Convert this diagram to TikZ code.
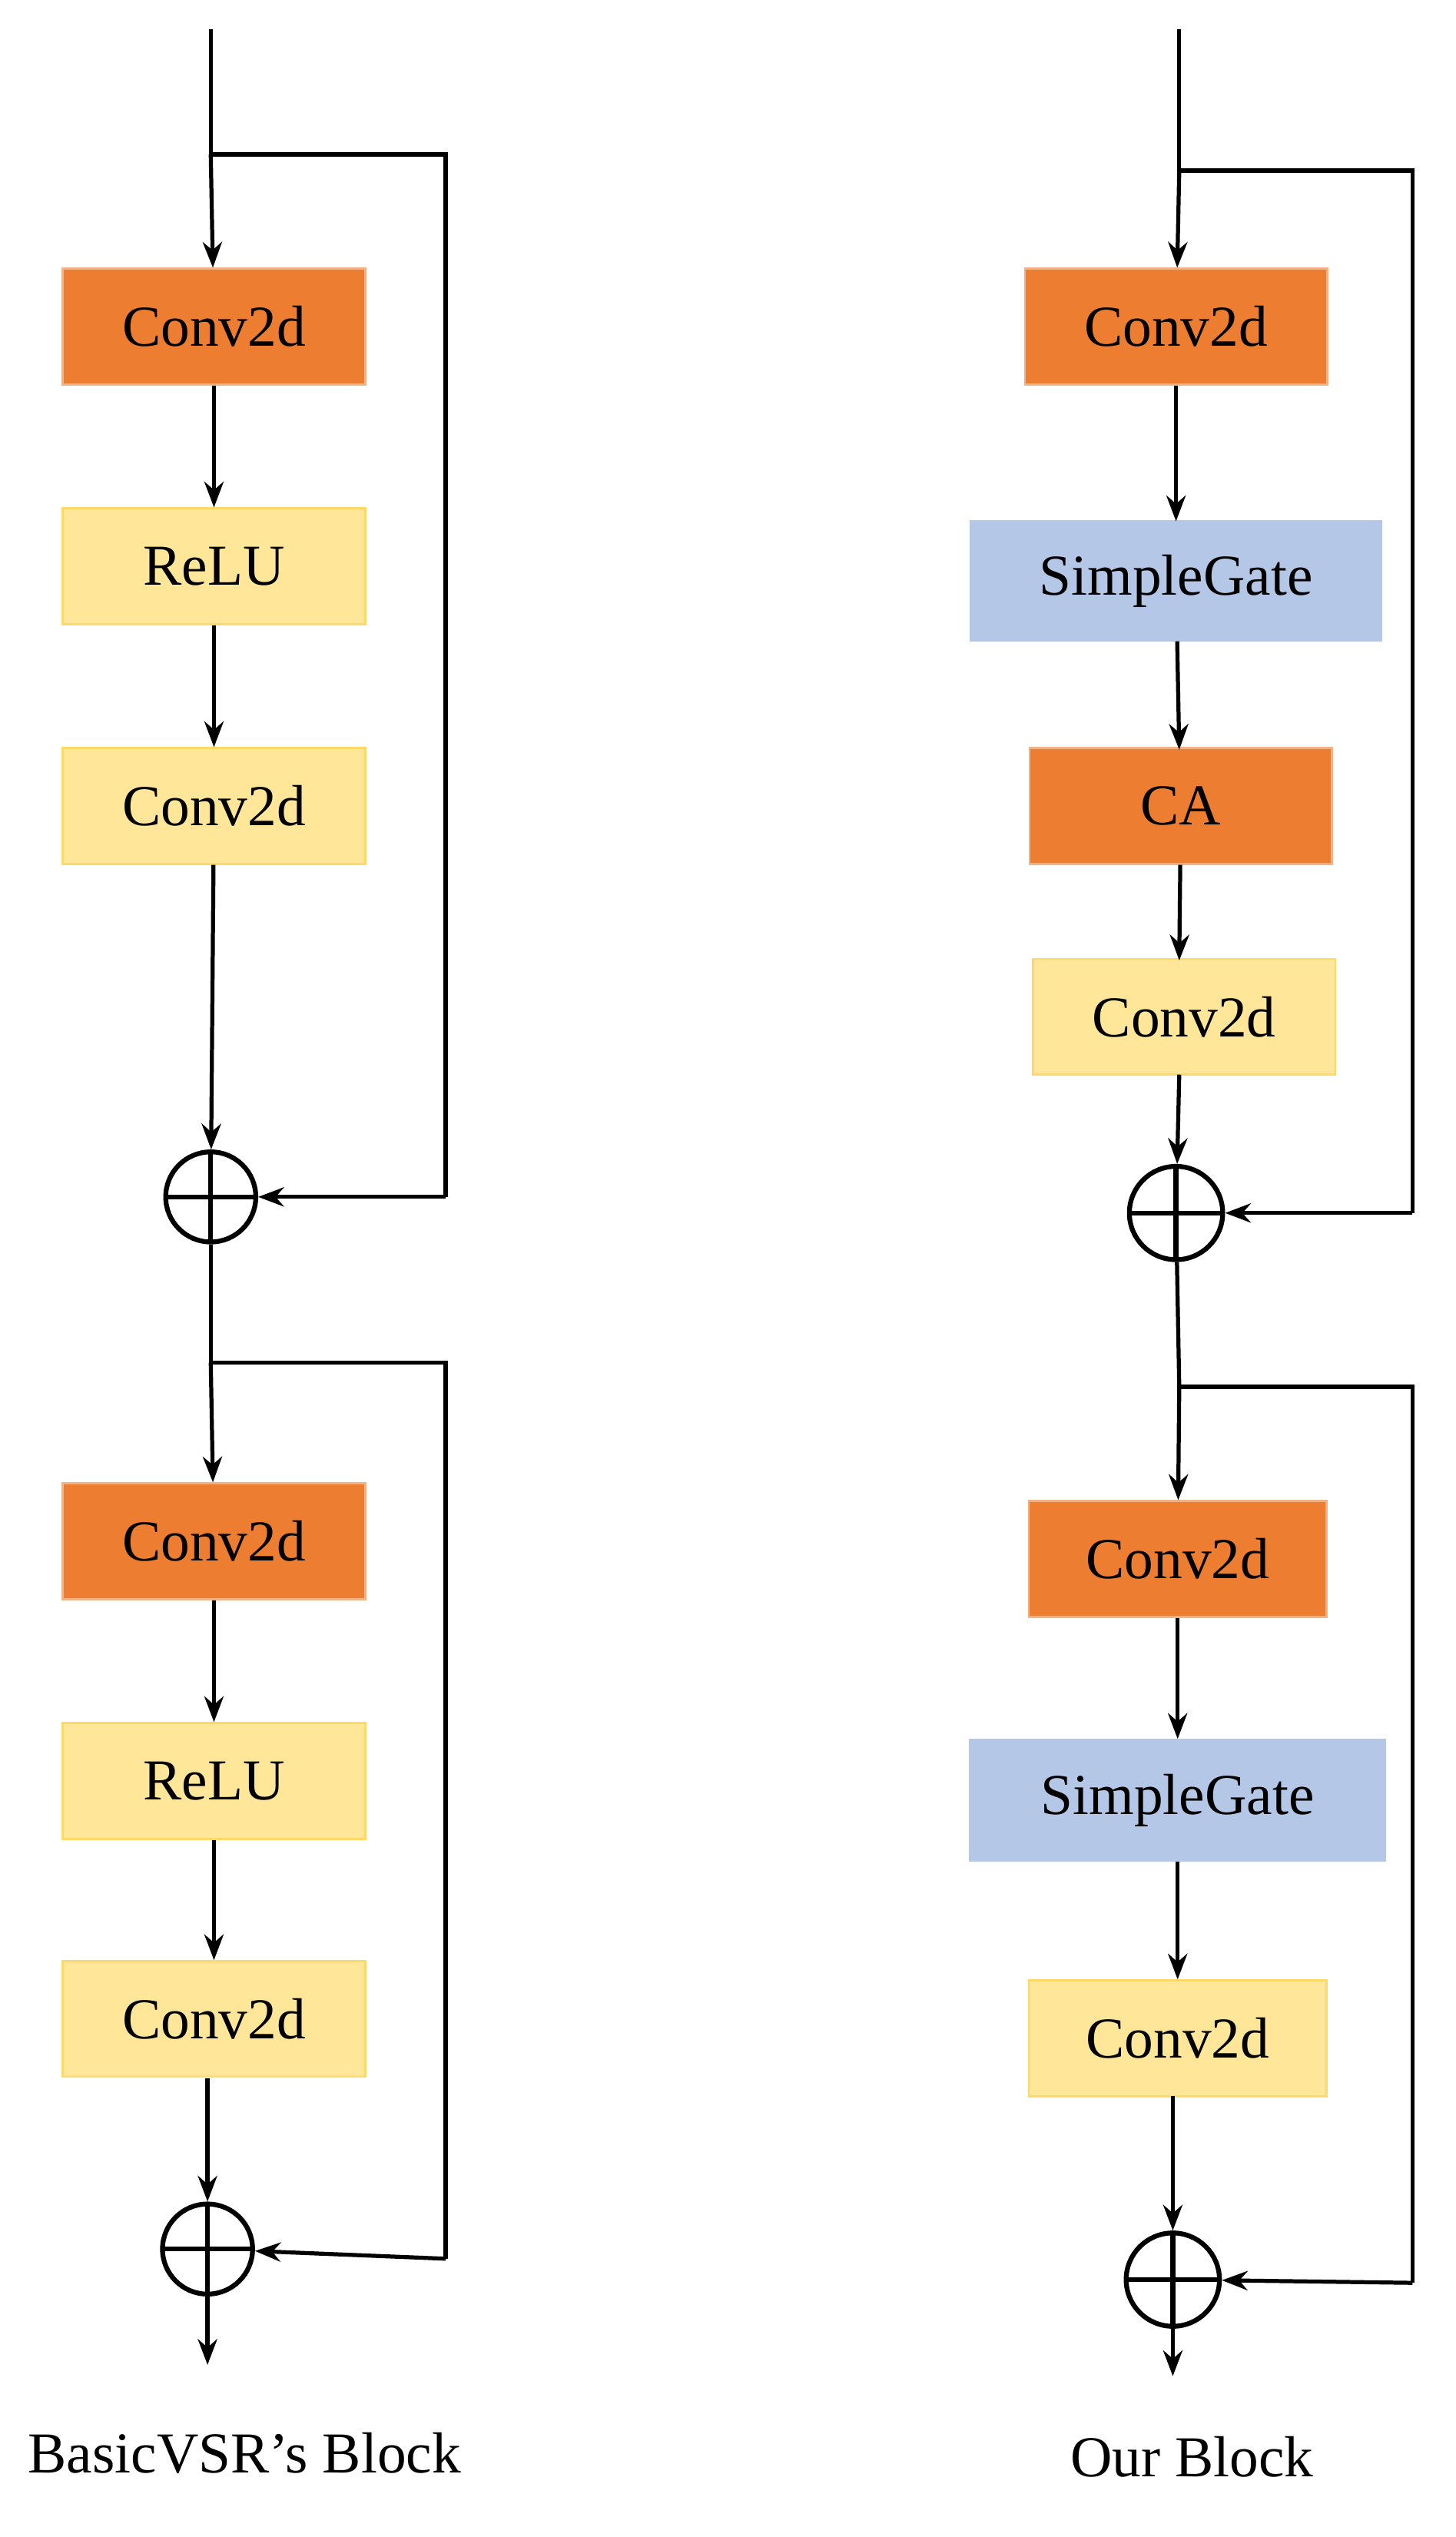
\documentclass[tikz,border=0pt]{standalone}
\usepackage{fontspec}
\setmainfont{Liberation Serif}
\usetikzlibrary{arrows.meta}
\definecolor{org}{HTML}{ED7D31}\definecolor{orgb}{HTML}{F4B183}
\definecolor{yel}{HTML}{FFE699}\definecolor{yelb}{HTML}{FFD966}
\definecolor{blu}{HTML}{B4C7E7}
\begin{document}
\begin{tikzpicture}[x=1pt,y=-1pt,
 box/.style={draw, line width=1.2pt, minimum height=72pt, inner sep=0pt, font=\fontsize{36}{40}\selectfont},
 or/.style={box,fill=org,draw=orgb},
 ye/.style={box,fill=yel,draw=yelb},
 bl/.style={box,fill=blu,draw=blu},
 add/.style={circle,draw,line width=3pt,minimum size=56pt,inner sep=0pt,
  path picture={\draw[line width=3pt] (path picture bounding box.north)--(path picture bounding box.south) (path picture bounding box.west)--(path picture bounding box.east);}},
 ln/.style={line width=2.5pt},
 ar/.style={ln,-{Stealth[length=16pt,width=12pt]}},
 lab/.style={font=\fontsize{36}{40}\selectfont}]
\useasboundingbox (0,0) rectangle (905,1577);
% left
\coordinate (l0) at (131,18); \coordinate (lb1) at (131,96); \coordinate (lr1) at (277,96); \coordinate (lr1b) at (277,744);
\node[or,minimum width=188pt] (l1) at (133,203) {Conv2d};
\node[ye,minimum width=188pt] (l2) at (133,352) {ReLU};
\node[ye,minimum width=188pt] (l3) at (133,501) {Conv2d};
\node[add] (la) at (131,744) {};
\coordinate (lb2) at (131,847); \coordinate (lr2) at (277,847); \coordinate (lr2b) at (277,1404);
\node[or,minimum width=188pt] (l4) at (133,958) {Conv2d};
\node[ye,minimum width=188pt] (l5) at (133,1107) {ReLU};
\node[ye,minimum width=188pt] (l6) at (133,1255) {Conv2d};
\node[add] (lc) at (129,1398) {};
\coordinate (le) at (129,1470);
\draw[ln] (l0)--(lb1); \draw[ar] (lb1)--(l1);
\draw[ln] (lb1)--(lr1)--(lr1b); \draw[ar] (lr1b)--(la);
\draw[ar] (l1)--(l2); \draw[ar] (l2)--(l3); \draw[ar] (l3)--(la);
\draw[ln] (la)--(lb2); \draw[ar] (lb2)--(l4);
\draw[ln] (lb2)--(lr2)--(lr2b); \draw[ar] (lr2b)--(lc);
\draw[ar] (l4)--(l5); \draw[ar] (l5)--(l6); \draw[ar] (129,1292)--(lc);
\draw[ar] (lc)--(le);
\node[lab] (lt) at (152,1525) {BasicVSR’s Block};
% right
\coordinate (r0) at (733,18); \coordinate (rb1) at (733,106); \coordinate (rr1) at (878,106); \coordinate (rr1b) at (878,754);
\node[or,minimum width=188pt] (r1) at (731,203) {Conv2d};
\node[bl,minimum width=255pt,minimum height=74pt] (r2) at (731,361) {SimpleGate};
\node[or,minimum width=188pt] (r3) at (734,501) {CA};
\node[ye,minimum width=188pt] (r4) at (736,632) {Conv2d};
\node[add,minimum size=58pt] (ra) at (731,754) {};
\coordinate (rb2) at (733,862); \coordinate (rr2) at (878,862); \coordinate (rr2b) at (878,1419);
\node[or,minimum width=185pt] (r5) at (732,969) {Conv2d};
\node[bl,minimum width=258pt,minimum height=75pt] (r6) at (732,1119) {SimpleGate};
\node[ye,minimum width=185pt] (r7) at (732,1267) {Conv2d};
\node[add,minimum size=58pt] (rc) at (729,1417) {};
\coordinate (re) at (729,1477);
\draw[ln] (r0)--(rb1); \draw[ar] (rb1)--(r1);
\draw[ln] (rb1)--(rr1)--(rr1b); \draw[ar] (rr1b)--(ra);
\draw[ar] (r1)--(731,324); \draw[ar] (r2)--(733,466); \draw[ar] (r3)--(733,597); \draw[ar] (733,668)--(ra);
\draw[ln] (ra)--(rb2); \draw[ar] (rb2)--(r5);
\draw[ln] (rb2)--(rr2)--(rr2b); \draw[ar] (rr2b)--(rc);
\draw[ar] (r5)--(r6); \draw[ar] (r6)--(r7); \draw[ar] (729,1303)--(rc);
\draw[ar] (rc)--(re);
\node[lab] (rt) at (741,1527) {Our Block};
\end{tikzpicture}
\end{document}
